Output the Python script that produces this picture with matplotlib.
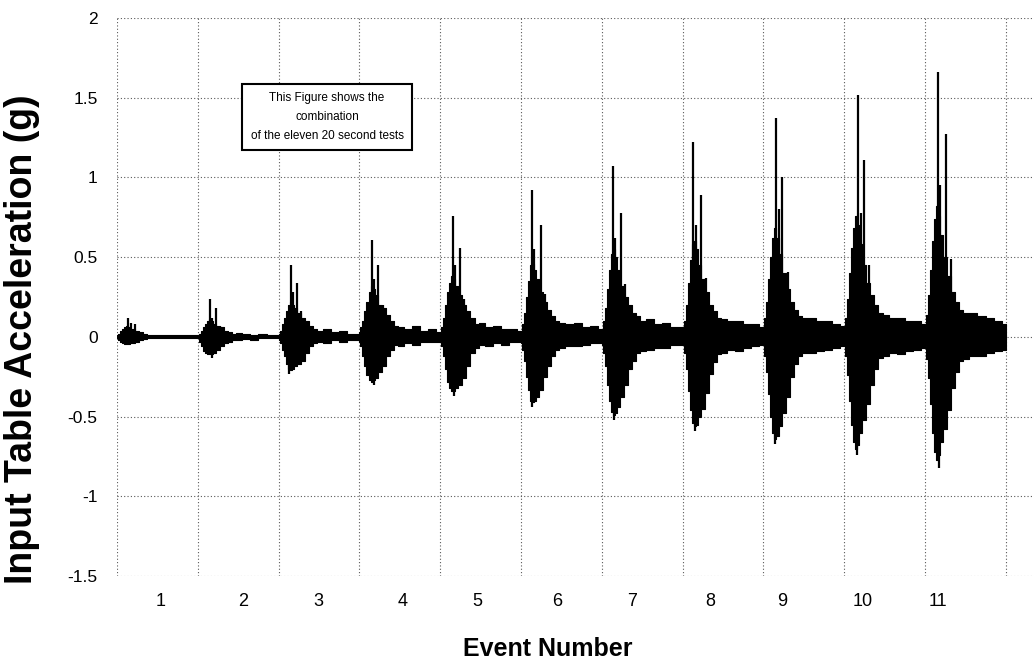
import matplotlib
matplotlib.use("Agg")
import matplotlib.pyplot as plt
import numpy as np

plt.rcParams['font.family'] = ['Liberation Sans', 'DejaVu Sans']

# time offsets (s) inside each 20 second test
t_env = [0, 0.5, 1, 1.5, 2, 2.5, 3, 3.5, 4, 5, 6, 7, 8, 9, 10, 12, 14, 16, 18, 20]

# dense part of the record, upper / lower envelope for each event (g)
env_upper = [
    [0.01, 0.02, 0.04, 0.05, 0.06, 0.07, 0.06, 0.05, 0.05, 0.04, 0.03, 0.02, 0.015, 0.01, 0.01, 0.012, 0.01, 0.01, 0.01, 0.01],
    [0.01, 0.02, 0.04, 0.06, 0.08, 0.1, 0.11, 0.1, 0.08, 0.07, 0.06, 0.04, 0.03, 0.02, 0.025, 0.02, 0.015, 0.02, 0.01, 0.01],
    [0.02, 0.04, 0.08, 0.12, 0.16, 0.2, 0.22, 0.2, 0.18, 0.15, 0.12, 0.1, 0.07, 0.05, 0.04, 0.05, 0.03, 0.04, 0.02, 0.02],
    [0.03, 0.06, 0.1, 0.16, 0.22, 0.28, 0.32, 0.3, 0.26, 0.2, 0.18, 0.14, 0.1, 0.07, 0.06, 0.05, 0.07, 0.04, 0.05, 0.03],
    [0.03, 0.06, 0.12, 0.2, 0.28, 0.34, 0.38, 0.36, 0.32, 0.26, 0.2, 0.16, 0.12, 0.08, 0.09, 0.06, 0.07, 0.05, 0.05, 0.04],
    [0.04, 0.08, 0.15, 0.25, 0.35, 0.45, 0.46, 0.42, 0.36, 0.28, 0.22, 0.17, 0.13, 0.1, 0.09, 0.08, 0.09, 0.06, 0.07, 0.05],
    [0.05, 0.1, 0.18, 0.3, 0.42, 0.52, 0.55, 0.5, 0.42, 0.32, 0.25, 0.2, 0.15, 0.13, 0.1, 0.11, 0.08, 0.09, 0.06, 0.06],
    [0.05, 0.1, 0.2, 0.34, 0.48, 0.58, 0.6, 0.55, 0.45, 0.36, 0.28, 0.2, 0.16, 0.12, 0.11, 0.1, 0.1, 0.08, 0.08, 0.06],
    [0.05, 0.12, 0.22, 0.36, 0.5, 0.62, 0.68, 0.62, 0.52, 0.4, 0.3, 0.22, 0.17, 0.13, 0.12, 0.12, 0.1, 0.1, 0.08, 0.07],
    [0.06, 0.12, 0.24, 0.4, 0.56, 0.68, 0.76, 0.7, 0.58, 0.45, 0.34, 0.26, 0.2, 0.15, 0.14, 0.12, 0.12, 0.1, 0.1, 0.08],
    [0.06, 0.14, 0.26, 0.42, 0.6, 0.74, 0.82, 0.76, 0.64, 0.5, 0.38, 0.28, 0.22, 0.17, 0.15, 0.15, 0.13, 0.12, 0.1, 0.08],
]
env_lower = [
    [-0.01, -0.02, -0.03, -0.04, -0.045, -0.045, -0.045, -0.04, -0.04, -0.03, -0.02, -0.015, -0.01, -0.01, -0.01, -0.01, -0.01, -0.01, -0.01, -0.01],
    [-0.01, -0.03, -0.06, -0.09, -0.1, -0.11, -0.11, -0.11, -0.1, -0.08, -0.06, -0.04, -0.03, -0.02, -0.02, -0.015, -0.02, -0.01, -0.01, -0.01],
    [-0.02, -0.04, -0.08, -0.12, -0.17, -0.2, -0.21, -0.2, -0.18, -0.17, -0.15, -0.1, -0.06, -0.04, -0.03, -0.04, -0.02, -0.03, -0.02, -0.02],
    [-0.03, -0.06, -0.12, -0.18, -0.24, -0.27, -0.28, -0.27, -0.26, -0.22, -0.18, -0.12, -0.08, -0.05, -0.06, -0.04, -0.05, -0.03, -0.03, -0.03],
    [-0.03, -0.06, -0.12, -0.2, -0.28, -0.32, -0.34, -0.34, -0.32, -0.3, -0.26, -0.18, -0.1, -0.07, -0.05, -0.06, -0.04, -0.05, -0.03, -0.03],
    [-0.04, -0.08, -0.15, -0.25, -0.33, -0.4, -0.41, -0.4, -0.38, -0.33, -0.25, -0.18, -0.12, -0.08, -0.07, -0.06, -0.06, -0.05, -0.04, -0.04],
    [-0.05, -0.1, -0.18, -0.3, -0.4, -0.47, -0.49, -0.48, -0.44, -0.38, -0.3, -0.2, -0.15, -0.1, -0.09, -0.08, -0.07, -0.07, -0.05, -0.05],
    [-0.05, -0.1, -0.2, -0.34, -0.46, -0.54, -0.56, -0.55, -0.5, -0.45, -0.35, -0.23, -0.16, -0.11, -0.1, -0.08, -0.09, -0.07, -0.06, -0.05],
    [-0.05, -0.12, -0.22, -0.36, -0.5, -0.6, -0.64, -0.62, -0.56, -0.48, -0.38, -0.25, -0.17, -0.12, -0.1, -0.1, -0.09, -0.08, -0.07, -0.06],
    [-0.06, -0.12, -0.24, -0.4, -0.55, -0.66, -0.7, -0.68, -0.6, -0.52, -0.42, -0.3, -0.2, -0.13, -0.12, -0.1, -0.11, -0.09, -0.08, -0.07],
    [-0.06, -0.14, -0.26, -0.42, -0.6, -0.72, -0.77, -0.74, -0.66, -0.58, -0.46, -0.32, -0.22, -0.15, -0.14, -0.12, -0.12, -0.1, -0.09, -0.08],
]

# thin peaks sticking out of the dense part (offset s, value g)
spike_offsets = [
    [2.7, 3.4, 4.5], [3.0, 3.6, 4.5, 5.5], [3.0, 3.5, 4.5, 5.5], [3.0, 3.5, 4.5, 5.8],
    [3.2, 3.6, 5.0, 6.0], [2.7, 3.3, 5.0, 6.0], [2.7, 3.3, 4.7, 5.8], [2.7, 3.3, 4.5, 5.7],
    [3.2, 3.8, 4.7, 6.0], [3.5, 4.1, 5.0, 6.2], [3.2, 3.8, 5.2, 6.4],
]
spike_values = [
    [0.12, 0.09, 0.08], [0.24, 0.12, 0.18, 0.07], [0.45, 0.28, 0.34, 0.16], [0.61, 0.36, 0.45, 0.2],
    [0.76, 0.45, 0.56, 0.24], [0.92, 0.55, 0.70, 0.27], [1.07, 0.62, 0.78, 0.33], [1.22, 0.7, 0.89, 0.37],
    [1.37, 0.8, 1.0, 0.41], [1.52, 0.78, 1.11, 0.45], [1.66, 0.95, 1.27, 0.49],
]
neg_spike_offsets = [3.0, 3.5, 2.5, 3.5, 3.5, 2.7, 3.0, 3.0, 3.0, 3.2, 3.5]
neg_spike_values = [-0.05, -0.13, -0.23, -0.3, -0.37, -0.44, -0.52, -0.59, -0.67, -0.74, -0.82]

event_labels = ['1', '2', '3', '4', '5', '6', '7', '8', '9', '10', '11']
event_label_x = [10.7, 31.2, 49.8, 70.6, 89.2, 109.0, 127.6, 146.9, 164.6, 184.6, 203.2]
test_length = 20

fig = plt.figure(figsize=(10.34, 6.66), dpi=100)
ax = fig.add_axes([0.1132, 0.135, 0.8868, 0.838])

for i in range(len(env_upper)):
    t0 = i * test_length
    t = np.array(t_env) + t0
    ax.fill_between(t, env_lower[i], env_upper[i], step='mid', color='black', lw=0.8)
    ax.vlines(np.array(spike_offsets[i]) + t0, 0, spike_values[i], color='black', lw=1.6)
    ax.vlines(neg_spike_offsets[i] + t0, 0, neg_spike_values[i], color='black', lw=1.6)

ax.set_xlim(0, 227)
ax.set_ylim(-1.5, 2)
ax.set_xticks(np.arange(0, 221, test_length))
ax.set_yticks(np.arange(-1.5, 2.01, 0.5))
ax.set_yticklabels(['-1.5', '-1', '-0.5', '0', '0.5', '1', '1.5', '2'])
ax.tick_params(axis='x', length=0, labelbottom=False)
ax.tick_params(axis='y', length=0, pad=14, labelsize=12.5)
ax.grid(True, color='0.35', linestyle=(0, (1, 2)), lw=0.8)
ax.set_axisbelow(True)
for s in ax.spines.values():
    s.set_visible(False)

for lab, x in zip(event_labels, event_label_x):
    ax.text(x, -1.66, lab, ha='center', va='center', fontsize=13, clip_on=False)

ax.text(52, 1.38, "This Figure shows the\ncombination\nof the eleven 20 second tests",
        ha='center', va='center', fontsize=8.5, linespacing=1.75,
        bbox=dict(boxstyle='square,pad=0.7', fc='white', ec='black', lw=1.5))

fig.text(0.021, 0.49, "Input Table Acceleration (g)", rotation=90, ha='center', va='center',
         fontsize=27, fontweight='bold')
fig.text(0.53, 0.025, "Event Number", ha='center', va='center', fontsize=18, fontweight='bold')

fig.savefig('out.png', dpi=100)
